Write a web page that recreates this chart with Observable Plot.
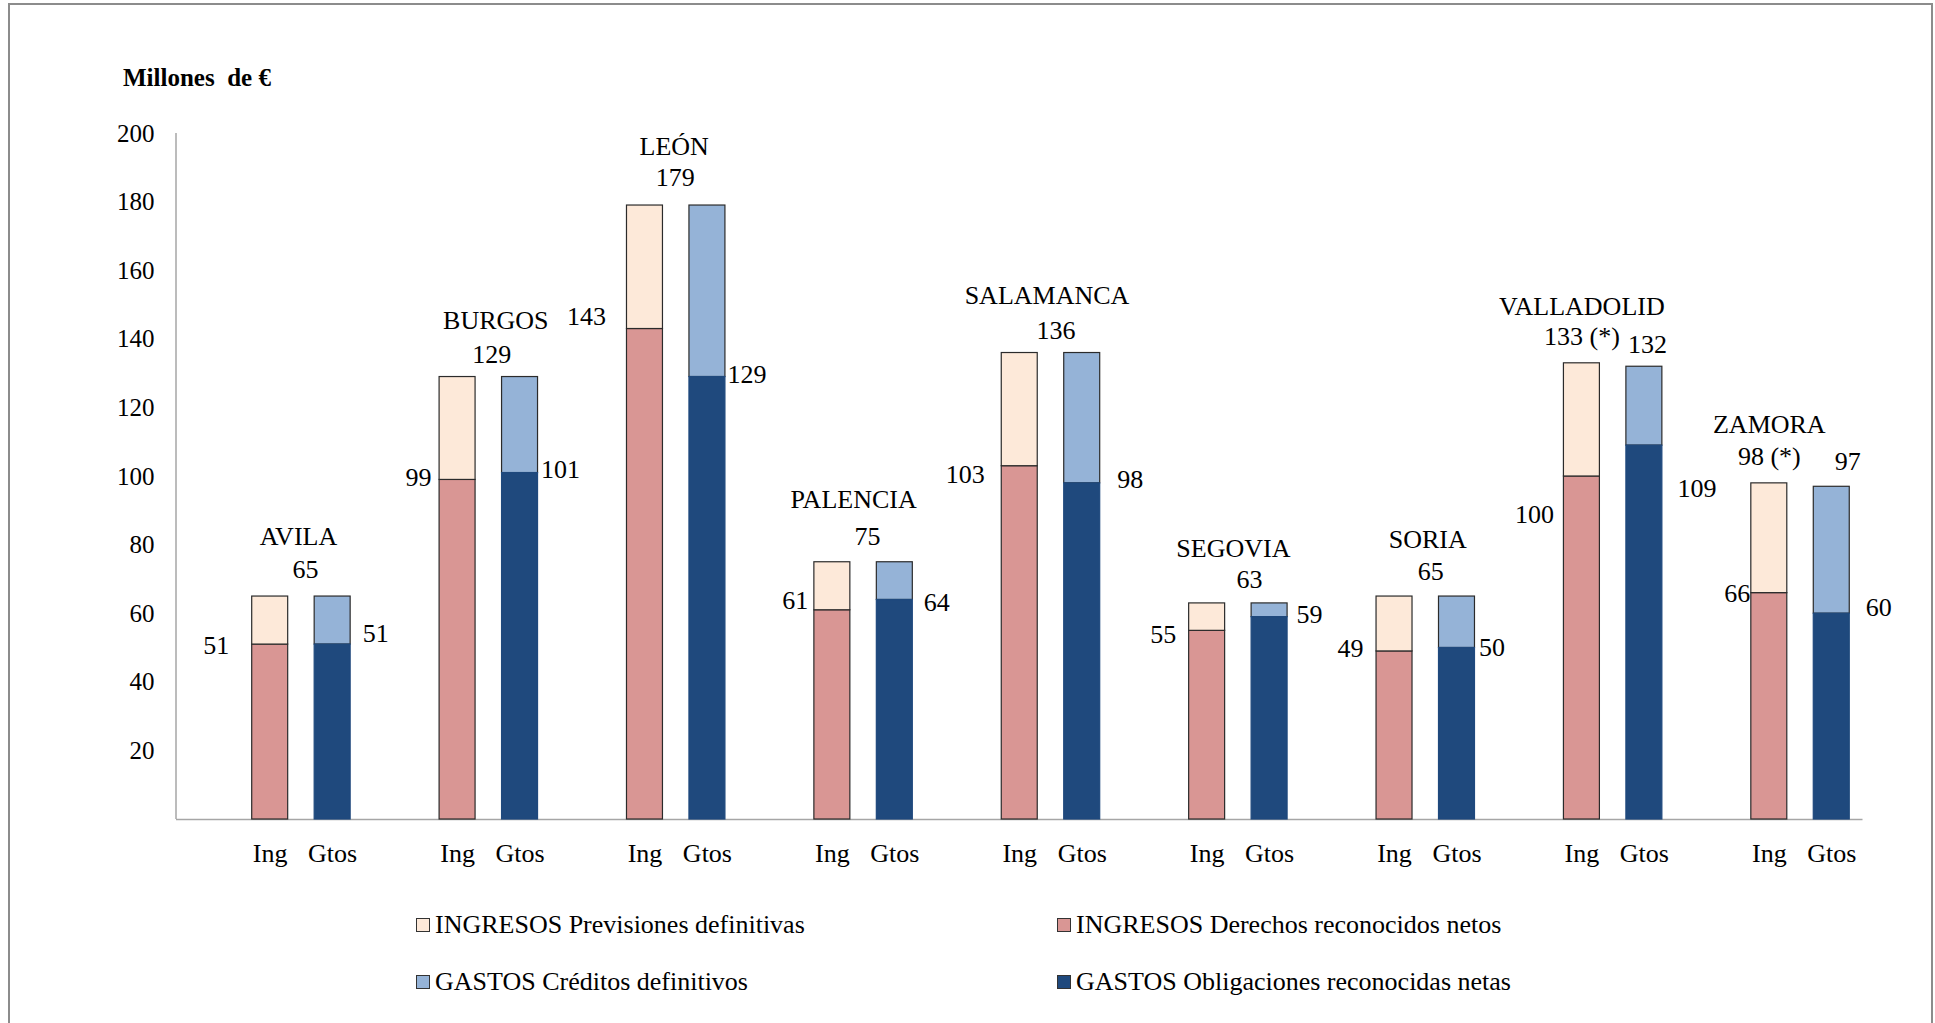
<!DOCTYPE html>
<html><head><meta charset="utf-8">
<script src="https://cdn.jsdelivr.net/npm/d3@7"></script>
<script src="https://cdn.jsdelivr.net/npm/@observablehq/plot@0.6"></script>
<style>
body{margin:0;background:#fff;}
#wrap{position:relative;width:1935px;height:1023px;overflow:hidden;font-family:"Liberation Serif","Times New Roman",serif;color:#000;background:#fff;}
#frame{position:absolute;left:8px;top:3px;width:1921px;height:1080px;border:2px solid #8c8c8c;}
#title{position:absolute;left:123px;top:63px;font-size:25px;font-weight:bold;line-height:30px;white-space:pre;}
#chart{position:absolute;left:0;top:100px;}
.leg{position:absolute;font-size:26px;line-height:30px;white-space:nowrap;display:flex;align-items:center;}
.sw{width:12px;height:12px;border:1px solid #333;margin-right:5px;flex:none;}
</style></head>
<body><div id="wrap"><div id="frame"></div><div id="title">Millones  de €</div><div id="chart"></div><div id="legend"></div></div>
<script>
// ---- data ----
const provinces = ["AVILA","BURGOS","LEÓN","PALENCIA","SALAMANCA","SEGOVIA","SORIA","VALLADOLID","ZAMORA"];
const slotLabels = ["", "Ing", "Gtos"];
const ingPrevisiones = [65,129,179,75,136,63,65,133,98];
const ingDerechos = [51,99,143,61,103,55,49,100,66];
const gtoCreditos = [65,129,179,75,136,63,65,132,97];
const gtoObligaciones = [51,101,129,64,98,59,50,109,60];
const ingTotalText = ["65","129","179","75","136","63","65","133 (*)","98 (*)"];
const gtoTotalText = [null,null,null,null,null,null,null,"132","97"];
const seriesNames = ["INGRESOS Previsiones definitivas","INGRESOS Derechos reconocidos netos","GASTOS Créditos definitivos","GASTOS Obligaciones reconocidas netas"];
const seriesColors = ["#FDE9D9","#D99694","#95B3D7","#1F497D"];
const yTicks = [20,40,60,80,100,120,140,160,180,200];

// ---- label nudges (pixel offsets from the scaled anchor) ----
const leftDx  = [-41,-26,-39,-24,-35,-31,-31,-28,-19];
const leftDy  = [1,-2,-12,-10,8,4,-3,38,1];
const rightDx = [30,21,20,29,35,27,22,33,34];
const rightDy = [-11,-3,-2,3,-4,-2,0,43,-6];
const halfStep = 31.25;
const totalDx = [4,3,-1,4,5,11,5,0,0];
const totalDy = [-27,-22,-28,-26,-22,-24,-25,-27,-27];
const gtoTotalDx = [0,0,0,0,0,0,0,3,16];
const gtoTotalDy = [0,0,0,0,0,0,0,-22,-25];
const nameDx = [-3,7,-2,-10,-4,-5,2,0,0];
const nameDy = [-60,-56,-59,-63,-57,-55,-57,-57,-59];

// ---- build tables ----
const key = (p, s) => p + "|" + s;
const slots = provinces.flatMap(p => slotLabels.map((s, j) => key(p, j === 0 ? "0" : s)));
const outlinedBars = [];
const darkBars = [];
provinces.forEach((p, i) => {
  outlinedBars.push({slot: key(p,"Ing"), series: seriesNames[1], y1: 0, y2: ingDerechos[i]});
  outlinedBars.push({slot: key(p,"Ing"), series: seriesNames[0], y1: ingDerechos[i], y2: ingPrevisiones[i]});
  outlinedBars.push({slot: key(p,"Gtos"), series: seriesNames[2], y1: gtoObligaciones[i], y2: gtoCreditos[i]});
  darkBars.push({slot: key(p,"Gtos"), series: seriesNames[3], y1: 0, y2: gtoObligaciones[i]});
});

const font = {fontFamily: '"Liberation Serif","Times New Roman",serif', fontSize: 26, fill: "#000"};
const labelMarks = [];
provinces.forEach((p, i) => {
  const split = gtoTotalText[i] !== null;
  const top = Math.max(ingPrevisiones[i], gtoCreditos[i]);
  labelMarks.push(Plot.text([{s: key(p,"Ing"), v: ingDerechos[i], t: String(ingDerechos[i])}],
    {x: "s", y: "v", text: "t", textAnchor: "end", dx: leftDx[i], dy: leftDy[i], ...font}));
  labelMarks.push(Plot.text([{s: key(p,"Gtos"), v: gtoObligaciones[i], t: String(gtoObligaciones[i])}],
    {x: "s", y: "v", text: "t", textAnchor: "start", dx: rightDx[i], dy: rightDy[i], ...font}));
  labelMarks.push(Plot.text([{s: key(p,"Ing"), v: ingPrevisiones[i], t: ingTotalText[i]}],
    {x: "s", y: "v", text: "t", dx: (split ? 0 : halfStep) + totalDx[i], dy: totalDy[i], ...font}));
  if (split) {
    labelMarks.push(Plot.text([{s: key(p,"Gtos"), v: gtoCreditos[i], t: gtoTotalText[i]}],
      {x: "s", y: "v", text: "t", dx: gtoTotalDx[i], dy: gtoTotalDy[i], ...font}));
  }
  labelMarks.push(Plot.text([{s: key(p,"Ing"), v: top, t: p}],
    {x: "s", y: "v", text: "t", dx: (split ? 0 : halfStep) + nameDx[i], dy: nameDy[i], ...font}));
});

function yAxisLine(index, scales, values, dimensions) {
  const ns = "http://www.w3.org/2000/svg";
  const l = document.createElementNS(ns, "line");
  const x = dimensions.marginLeft;
  l.setAttribute("x1", x); l.setAttribute("x2", x);
  l.setAttribute("y1", scales.y(0)); l.setAttribute("y2", scales.y(yTicks[yTicks.length - 1]));
  l.setAttribute("stroke", "#a6a6a6"); l.setAttribute("stroke-width", 1.5);
  return l;
}

const chart = Plot.plot({
  width: 1935,
  height: 790,
  marginTop: 33,
  marginBottom: 71,
  marginLeft: 176,
  marginRight: 72.5,
  style: {fontFamily: '"Liberation Serif","Times New Roman",serif', fontSize: "26px", color: "#000", background: "transparent", overflow: "visible"},
  x: {type: "band", domain: slots, paddingInner: 0.424, paddingOuter: 0.212, round: false, label: null},
  y: {domain: [0, 200], label: null},
  color: {domain: seriesNames, range: seriesColors},
  marks: [
    Plot.ruleY([0], {stroke: "#a6a6a6", strokeWidth: 1.5}),
    yAxisLine,
    Plot.barY(outlinedBars, {x: "slot", y1: "y1", y2: "y2", fill: "series", stroke: "#2b2b2b", strokeWidth: 1.2}),
    Plot.barY(darkBars, {x: "slot", y1: "y1", y2: "y2", fill: "series", stroke: "series", strokeWidth: 1.2}),
    Plot.axisY({ticks: yTicks, tickSize: 0, tickPadding: 22, fontSize: 25, label: null}),
    Plot.axisX({ticks: slots.filter(s => !s.endsWith("|0")), tickFormat: s => s.split("|")[1], tickSize: 0, tickPadding: 24, fontSize: 26, label: null}),
    ...labelMarks
  ]
});
document.getElementById("chart").appendChild(chart);

// ---- legend ----
const legend = document.getElementById("legend");
const legPos = [[416, 910], [1057, 910], [416, 967], [1057, 967]];
seriesNames.forEach((name, i) => {
  const d = document.createElement("div");
  d.className = "leg";
  d.style.left = legPos[i][0] + "px";
  d.style.top = legPos[i][1] + "px";
  const sw = document.createElement("span");
  sw.className = "sw";
  sw.style.background = seriesColors[i];
  d.appendChild(sw);
  d.appendChild(document.createTextNode(name));
  legend.appendChild(d);
});
</script>
</body></html>
